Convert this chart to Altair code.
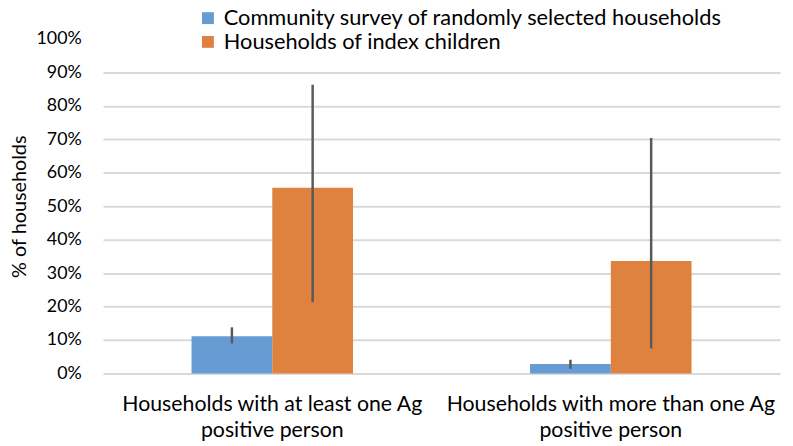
import altair as alt
import pandas as pd

categories = ["Households with at least one Ag|positive person",
              "Households with more than one Ag|positive person"]
series = ["Community survey of randomly selected households",
          "Households of index children"]
community = [11.1, 2.8]
community_low = [9.0, 1.4]
community_high = [13.8, 4.1]
index_children = [55.5, 33.6]
index_low = [21.3, 7.5]
index_high = [86.3, 70.4]

rows = []
for i, c in enumerate(categories):
    rows.append({"cat": c, "series": series[0], "val": community[i],
                 "lo": community_low[i], "hi": community_high[i]})
    rows.append({"cat": c, "series": series[1], "val": index_children[i],
                 "lo": index_low[i], "hi": index_high[i]})
df = pd.DataFrame(rows)

FONT = "Lato"

x_axis = alt.Axis(labelExpr="split(datum.label, '|')", labelAngle=0,
                  labelFontSize=21.5, labelLineHeight=27, labelPadding=31,
                  labelColor="#000000", labelFont=FONT, labelLimit=400,
                  labelOverlap=False, labelBaseline="middle",
                  domain=False, ticks=False)
x_scale = alt.Scale(paddingInner=0.523, paddingOuter=0.2615)
y_axis = alt.Axis(values=list(range(0, 101, 10)),
                  labelExpr="datum.value + '%'", labelOverlap=False,
                  labelFontSize=18, labelColor="#000000", labelFont=FONT,
                  labelPadding=22, domain=False, ticks=False,
                  grid=True, gridWidth=2,
                  gridColor={"condition": {"test": "datum.value == 100", "value": "transparent"},
                             "value": "#D9D9D9"},
                  titleFontSize=20, titleFontWeight="normal", titleColor="#000000",
                  titleFont=FONT, titlePadding=7)
y_scale = alt.Scale(domain=[0, 100], nice=False)
off_scale = alt.Scale(paddingInner=0, paddingOuter=0)

bars = alt.Chart(df).mark_bar().encode(
    x=alt.X("cat:N", sort=categories, title=None, scale=x_scale, axis=x_axis),
    xOffset=alt.XOffset("series:N", sort=series, scale=off_scale),
    y=alt.Y("val:Q", title="% of households", scale=y_scale, axis=y_axis),
    color=alt.Color("series:N", sort=series,
                    scale=alt.Scale(domain=series, range=["#669BD4", "#E0823F"]),
                    legend=alt.Legend(title=None, orient="none", legendX=95, legendY=-32,
                                      direction="vertical", symbolType="square",
                                      symbolSize=144, symbolStrokeWidth=0,
                                      labelFontSize=22, labelFont=FONT, labelColor="#000000",
                                      rowPadding=2, labelOffset=5, labelLimit=700))
)

err = alt.Chart(df).mark_rule(color="#595959", strokeWidth=2.5).encode(
    x=alt.X("cat:N", sort=categories, title=None, scale=x_scale, axis=x_axis),
    xOffset=alt.XOffset("series:N", sort=series, scale=off_scale),
    y=alt.Y("lo:Q", title="% of households", scale=y_scale, axis=y_axis),
    y2="hi:Q"
)

chart = alt.layer(bars, err).properties(
    width=684, height=338,
    autosize=alt.AutoSizeParams(type="none"),
    padding={"left": 96, "top": 29, "right": 5, "bottom": 70},
).configure_view(stroke=None).configure_axis(labelFont=FONT, titleFont=FONT)

chart.save("out.html", embed_options={"renderer": "svg", "actions": False})
